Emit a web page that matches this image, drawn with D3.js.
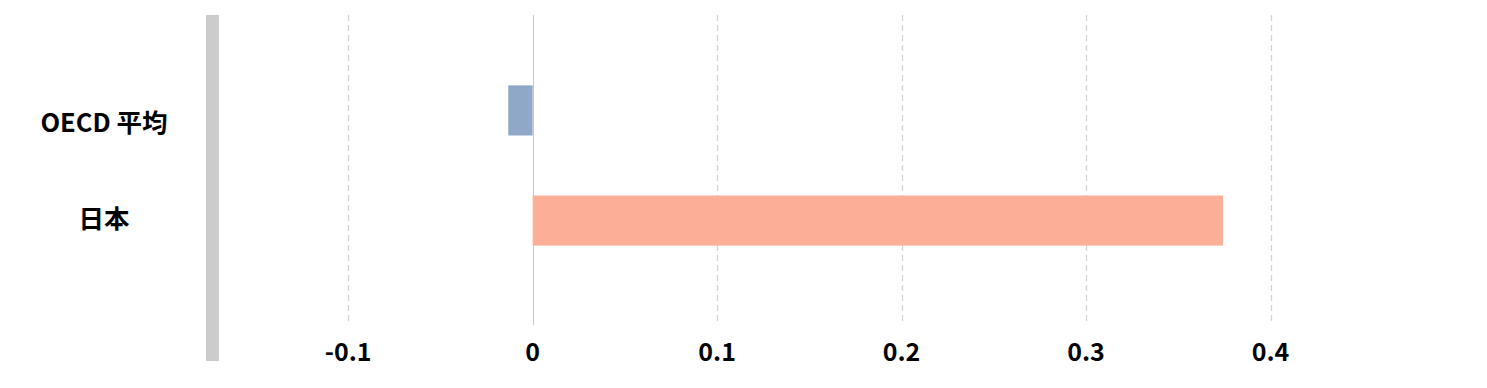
<!DOCTYPE html>
<html>
<head>
<meta charset="utf-8">
<script src="https://cdn.jsdelivr.net/npm/d3@7"></script>
<style>
  html, body { margin: 0; padding: 0; background: #fff; }
  svg { display: block; }
  text { font-family: "Noto Sans CJK JP", "Noto Sans", sans-serif; font-weight: bold; fill: #000; }
</style>
</head>
<body>
<div id="chart"></div>
<script>
const categories = ['OECD 平均', '日本'];
const values = [-0.0132, 0.3742];
const colors = ['#8fa8c8', '#fcaf97'];
const tickValues = [-0.1, 0, 0.1, 0.2, 0.3, 0.4];
const tickLabels = ['-0.1', '0', '0.1', '0.2', '0.3', '0.4'];

const width = 1487, height = 388;
const plot = { top: 15, bottom: 325, left: 219, right: 1455 };

const svg = d3.select('#chart').append('svg')
  .attr('width', width)
  .attr('height', height);

const x = d3.scaleLinear().domain([-0.17, 0.5]).range([plot.left, plot.right]);
const y = d3.scaleBand().domain(categories)
  .range([plot.top, plot.bottom])
  .paddingInner(0.545)
  .paddingOuter(0.68)
  .align(0.47);
// labels sit slightly off the bar centres in the original
const yLabel = d3.scalePoint().domain(categories).range([123, 219.5]);

// grid lines
svg.append('g').attr('class', 'grid')
  .selectAll('line')
  .data(tickValues)
  .join('line')
  .attr('x1', d => Math.round(x(d)) + 0.5)
  .attr('x2', d => Math.round(x(d)) + 0.5)
  .attr('y1', plot.top)
  .attr('y2', plot.bottom)
  .attr('stroke', d => d === 0 ? '#c8c8c8' : '#d4d4d4')
  .attr('stroke-width', d => d === 0 ? 1 : 1.3)
  .attr('stroke-dasharray', d => d === 0 ? null : '6,4');

// left axis bar
svg.append('rect')
  .attr('x', 206)
  .attr('y', plot.top)
  .attr('width', 13)
  .attr('height', 346)
  .attr('fill', '#cccccc');

// bars
svg.append('g').attr('class', 'bars')
  .selectAll('rect')
  .data(categories)
  .join('rect')
  .attr('x', (d, i) => x(Math.min(0, values[i])))
  .attr('y', d => y(d))
  .attr('width', (d, i) => Math.abs(x(values[i]) - x(0)))
  .attr('height', y.bandwidth())
  .attr('fill', (d, i) => colors[i]);

// redraw zero line over bars
svg.append('line')
  .attr('x1', Math.round(x(0)) + 0.5)
  .attr('x2', Math.round(x(0)) + 0.5)
  .attr('y1', plot.top)
  .attr('y2', plot.bottom)
  .attr('stroke', '#c8c8c8');

// category labels
svg.append('g').attr('class', 'labels')
  .selectAll('text')
  .data(categories)
  .join('text')
  .attr('x', 104)
  .attr('y', d => yLabel(d))
  .attr('dy', '0.35em')
  .attr('text-anchor', 'middle')
  .attr('font-size', 25.5)
  .text(d => d);

// x tick labels
svg.append('g').attr('class', 'ticks')
  .selectAll('text')
  .data(tickValues)
  .join('text')
  .attr('x', d => x(d))
  .attr('y', 352)
  .attr('dy', '0.35em')
  .attr('text-anchor', 'middle')
  .attr('font-size', 25)
  .text((d, i) => tickLabels[i]);
</script>
</body>
</html>
